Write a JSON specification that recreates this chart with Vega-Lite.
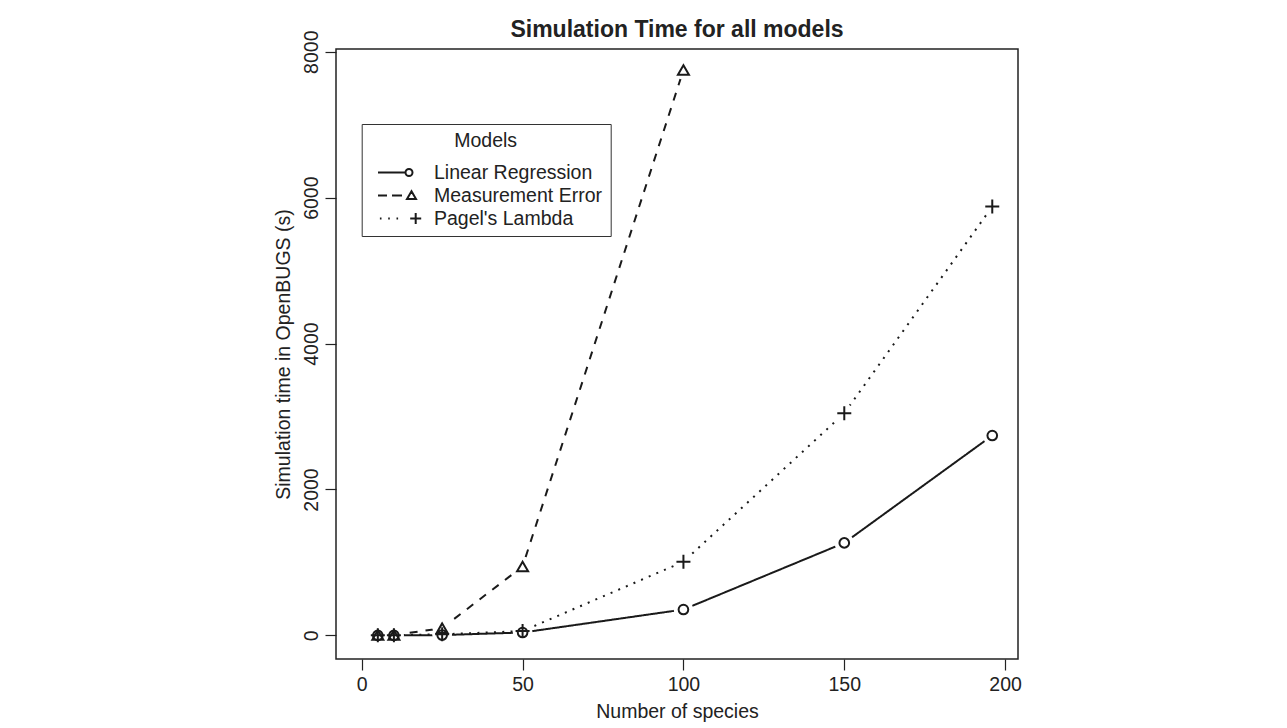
{
  "$schema": "https://vega.github.io/schema/vega-lite/v6.json",
  "autosize": {"type": "none"},
  "padding": {"left": 336, "top": 49, "right": 269, "bottom": 69},
  "width": 682,
  "height": 610,
  "background": "white",
  "title": {
    "text": "Simulation Time for all models",
    "fontSize": 23,
    "fontWeight": "bold",
    "font": "Liberation Sans",
    "color": "#222",
    "anchor": "middle",
    "frame": "group",
    "offset": -12
  },
  "config": {
    "font": "Liberation Sans",
    "view": {"stroke": "#222", "strokeWidth": 1.5},
    "axis": {
      "domain": false,
      "grid": false,
      "ticks": true,
      "tickColor": "#222",
      "tickWidth": 1.2,
      "tickSize": 11,
      "labelFont": "Liberation Sans",
      "labelFontSize": 19.5,
      "labelColor": "#222",
      "titleFont": "Liberation Sans",
      "titleFontSize": 19.5,
      "titleFontWeight": "normal",
      "titleColor": "#222"
    }
  },
  "resolve": {"scale": {"shape": "independent"}},
  "data": {
    "values": [
      {"n": 5, "model": "Linear Regression", "time": 0},
      {"n": 10, "model": "Linear Regression", "time": 0},
      {"n": 25, "model": "Linear Regression", "time": 5},
      {"n": 50, "model": "Linear Regression", "time": 40},
      {"n": 100, "model": "Linear Regression", "time": 355},
      {"n": 150, "model": "Linear Regression", "time": 1268},
      {"n": 196, "model": "Linear Regression", "time": 2740},
      {"n": 5, "model": "Measurement Error", "time": 5},
      {"n": 10, "model": "Measurement Error", "time": 5},
      {"n": 25, "model": "Measurement Error", "time": 100},
      {"n": 50, "model": "Measurement Error", "time": 945},
      {"n": 100, "model": "Measurement Error", "time": 7750},
      {"n": 5, "model": "Pagel's Lambda", "time": 2},
      {"n": 10, "model": "Pagel's Lambda", "time": 3},
      {"n": 25, "model": "Pagel's Lambda", "time": 15},
      {"n": 50, "model": "Pagel's Lambda", "time": 60},
      {"n": 100, "model": "Pagel's Lambda", "time": 1010},
      {"n": 150, "model": "Pagel's Lambda", "time": 3045},
      {"n": 196, "model": "Pagel's Lambda", "time": 5877}
    ]
  },
  "encoding": {
    "x": {
      "field": "n",
      "type": "quantitative",
      "scale": {"domain": [-8.0, 204.0], "nice": false, "zero": false},
      "axis": {
        "values": [0, 50, 100, 150, 200],
        "format": "d",
        "title": "Number of species",
        "labelPadding": 5,
        "titleX": 341,
        "titleY": 58.7,
        "titleBaseline": "alphabetic",
        "titleAlign": "center"
      }
    },
    "y": {
      "field": "time",
      "type": "quantitative",
      "scale": {"domain": [-323, 8037], "nice": false, "zero": false},
      "axis": {
        "values": [0, 2000, 4000, 6000, 8000],
        "format": "d",
        "title": "Simulation time in OpenBUGS (s)",
        "labelAngle": -90,
        "labelAlign": "center",
        "labelBaseline": "alphabetic",
        "labelPadding": 8,
        "titleAngle": -90,
        "titleX": -47,
        "titleY": 305,
        "titleAlign": "center",
        "titleBaseline": "alphabetic"
      }
    }
  },
  "layer": [
    {
      "mark": {"type": "line", "strokeWidth": 2, "color": "#1a1a1a"},
      "encoding": {
        "detail": {"field": "model"},
        "strokeDash": {
          "field": "model",
          "type": "nominal",
          "scale": {
            "domain": ["Pagel's Lambda", "Measurement Error", "Linear Regression"],
            "range": [[2, 6.3], [8, 8], [1, 0]]
          },
          "legend": null
        }
      }
    },
    {
      "mark": {"type": "point", "shape": "circle", "filled": true, "color": "white", "opacity": 1, "size": 380, "strokeWidth": 0}
    },
    {
      "mark": {"type": "point", "filled": false, "strokeWidth": 2, "color": "#1a1a1a", "opacity": 1, "size": 196},
      "encoding": {
        "shape": {
          "field": "model",
          "type": "nominal",
          "scale": {
            "domain": ["Linear Regression", "Measurement Error", "Pagel's Lambda"],
            "range": [
              "M0.69,0A0.69,0.69 0 1 1 -0.69,0A0.69,0.69 0 1 1 0.69,0Z",
              "M0,-0.68L-0.786,0.68L0.786,0.68Z",
              "M-1,0H1M0,-1V1"
            ]
          },
          "legend": null
        }
      }
    },
    {
      "mark": {"type": "point", "filled": false, "strokeWidth": 2, "color": "#1a1a1a", "opacity": 0, "size": 1},
      "encoding": {
        "shape": {
          "field": "model",
          "type": "nominal",
          "scale": {
            "domain": ["Linear Regression", "Measurement Error", "Pagel's Lambda"],
            "range": [
              "M-0.27,0H2.48M3.18,0A0.35,0.35 0 1 1 2.48,0A0.35,0.35 0 1 1 3.18,0Z",
              "M-0.27,0H0.63M1.13,0H2.13M3.08,-0.43L2.63,0.35L3.53,0.35Z",
              "M-0.08,0H0.08M0.75,0H0.91M1.58,0H1.74M2.95,0H4.05M3.5,-0.55V0.55"
            ]
          },
          "legend": {
            "title": "Models",
            "orient": "none",
            "legendX": 25.7,
            "legendY": 75,
            "padding": 8,
            "strokeColor": "#333",
            "fillColor": "white",
            "titleFont": "Liberation Sans",
            "titleFontSize": 19.5,
            "titleFontWeight": "normal",
            "titleColor": "#222",
            "titleAnchor": "middle",
            "titleAlign": "center",
            "titlePadding": 10,
            "labelFont": "Liberation Sans",
            "labelFontSize": 19.5,
            "labelColor": "#222",
            "labelOffset": 42.3,
            "labelLimit": 400,
            "symbolSize": 400,
            "symbolStrokeWidth": 2,
            "symbolStrokeColor": "#1a1a1a",
            "symbolFillColor": "transparent",
            "symbolOpacity": 1,
            "rowPadding": 2
          }
        }
      }
    }
  ]
}
